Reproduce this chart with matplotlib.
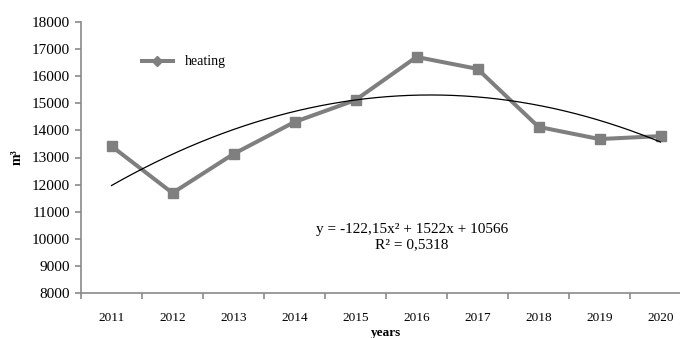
import numpy as np
import matplotlib.pyplot as plt
from matplotlib.lines import Line2D

years = ['2011', '2012', '2013', '2014', '2015', '2016', '2017', '2018', '2019', '2020']
heating = [13420, 11690, 13130, 14310, 15120, 16710, 16270, 14130, 13680, 13790]

# polynomial trend (order 2) as stated on the chart
trend_coef = [-122.15, 1522, 10566]
trend_text = 'y = -122,15x² + 1522x + 10566\nR² = 0,5318'

plt.rcParams['font.family'] = ['Liberation Serif', 'DejaVu Serif']
grey = '#7f7f7f'
spine_grey = '#8a8a8a'

fig = plt.figure(figsize=(6.8, 3.38), dpi=100)
ax = fig.add_axes([81 / 680, 1 - 293 / 338, 610 / 680, 271 / 338])

x = np.arange(1, len(years) + 1)
ax.plot(x, heating, color=grey, lw=2.9, marker='s', markersize=6.5,
        markerfacecolor=grey, markeredgecolor=grey, zorder=2)

xt = np.linspace(1, len(years), 200)
ax.plot(xt, np.polyval(trend_coef, xt), color='black', lw=0.9, zorder=3)

ax.set_xlim(0.5, len(years) + 0.5)
ax.set_ylim(8000, 18000)
ax.set_yticks(np.arange(8000, 18001, 1000))
ax.set_xticks(x)
ax.set_xticklabels(years)
ax.set_xticks(np.arange(0.5, len(years) + 0.6, 1), minor=True)

for s in ['top', 'right']:
    ax.spines[s].set_visible(False)
for s in ['left', 'bottom']:
    ax.spines[s].set_color(spine_grey)
    ax.spines[s].set_linewidth(1.2)

ax.tick_params(axis='y', direction='out', length=4, width=1.2, color=spine_grey,
               labelsize=11, pad=4)
ax.tick_params(axis='x', which='major', length=0, labelsize=9.5, pad=14)
ax.tick_params(axis='x', which='minor', direction='out', length=4, width=1.2,
               color=spine_grey)

ax.set_ylabel('m³', fontsize=10, fontweight='bold', labelpad=6)
ax.set_xlabel('years', fontsize=9.5, fontweight='bold', labelpad=2)

fig.text(412 / 680, 1 - 237 / 338, trend_text, fontsize=11, ha='center',
         va='center', linespacing=1.2)

handle = Line2D([], [], color=grey, lw=2.9, marker='D', markersize=5)
ax.legend([handle], ['heating'], loc='center left', frameon=False,
          bbox_to_anchor=(129 / 680, 1 - 62 / 338), bbox_transform=fig.transFigure,
          fontsize=10, handlelength=2.3, handletextpad=0.8)

fig.savefig('out.png', dpi=100)
